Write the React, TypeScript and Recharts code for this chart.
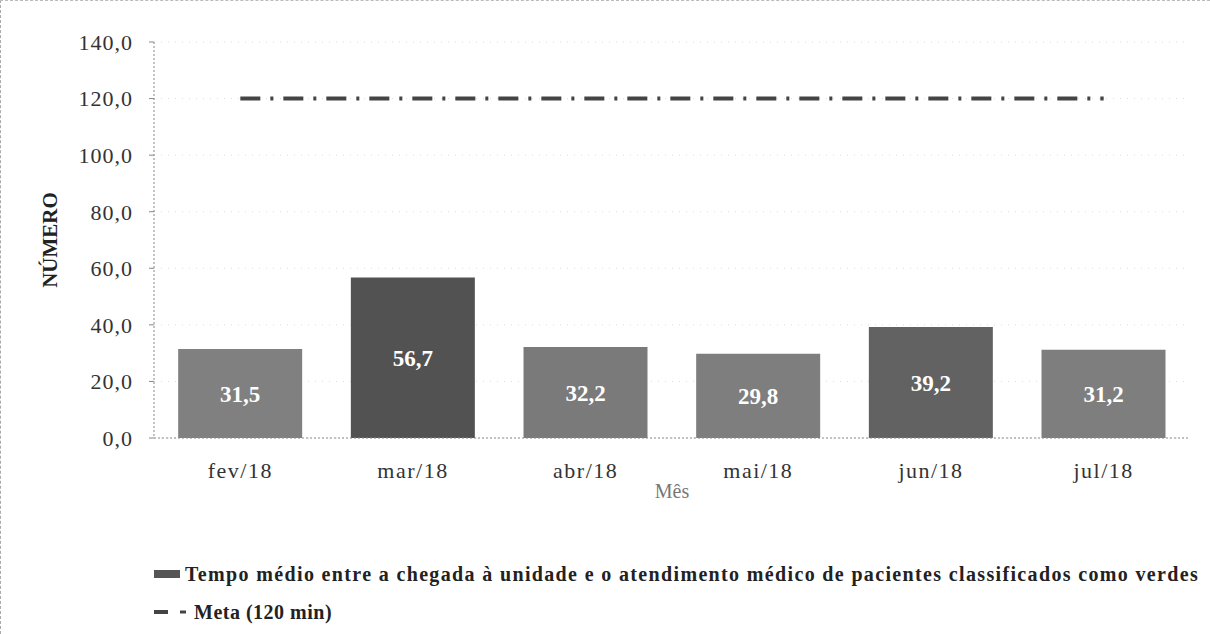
import { ComposedChart, Bar, Line, XAxis, YAxis, CartesianGrid, Legend, Cell, LabelList } from 'recharts';

const months = ['fev/18', 'mar/18', 'abr/18', 'mai/18', 'jun/18', 'jul/18'];
const tempoMedio = [31.5, 56.7, 32.2, 29.8, 39.2, 31.2];
const meta = [120, 120, 120, 120, 120, 120];
const yTicks = [0, 20, 40, 60, 80, 100, 120, 140];
const barShades = ['#808080', '#525252', '#7a7a7a', '#7e7e7e', '#626262', '#7e7e7e'];

const data = months.map((mes, i) => ({ mes, tempo: tempoMedio[i], meta: meta[i] }));

const fmt = (v: number) => v.toFixed(1).replace('.', ',');
const serif = 'Liberation Serif';

function LegendBox() {
  return (
    <div style={{ fontFamily: serif, fontWeight: 'bold', fontSize: 20, color: '#222' }}>
      <div style={{ display: 'flex', alignItems: 'center', height: 36, whiteSpace: 'nowrap' }}>
        <span style={{ display: 'inline-block', width: 26, height: 8, background: '#555', marginRight: 5 }} />
        <span style={{ letterSpacing: 1.35 }}>
          Tempo médio entre a chegada à unidade e o atendimento médico de pacientes classificados como verdes
        </span>
      </div>
      <div style={{ display: 'flex', alignItems: 'center', height: 40 }}>
        <svg width={38} height={10} style={{ marginRight: 2 }}>
          <line x1={0} y1={5} x2={14} y2={5} stroke="#444" strokeWidth={4} />
          <line x1={26} y1={5} x2={32} y2={5} stroke="#444" strokeWidth={3} />
        </svg>
        <span style={{ letterSpacing: 0.5 }}>Meta (120 min)</span>
      </div>
    </div>
  );
}

export default function App() {
  return (
    <div
      style={{
        position: 'absolute',
        left: 0,
        top: 0,
        width: 1210,
        height: 634,
        background: '#fff',
        boxSizing: 'border-box',
        borderLeft: '1px dashed #aaa',
        borderTop: '1px dashed #bbb',
      }}
    >
      <ComposedChart
        width={1209}
        height={633}
        data={data}
        margin={{ top: 41, right: 20, bottom: 126, left: 0 }}
        barCategoryGap="14%"
      >
        <CartesianGrid vertical={false} stroke="#dddddd" strokeDasharray="1 6" />
        <XAxis
          dataKey="mes"
          height={70}
          axisLine={{ stroke: '#888', strokeDasharray: '2 2' }}
          tickLine={false}
          tickSize={6}
          tickMargin={18}
          tick={{ fontFamily: serif, fontSize: 22, fill: '#333', letterSpacing: 1.5 }}
          label={{
            content: (props: any) => {
              const vb = props.viewBox || {};
              return (
                <text x={vb.x + vb.width / 2} y={vb.y + 60} textAnchor="middle" fontFamily={serif} fontSize={20} fill="#777">
                  Mês
                </text>
              );
            },
          }}
        />
        <YAxis
          width={153}
          domain={[0, 140]}
          ticks={yTicks}
          interval={0}
          tickFormatter={fmt}
          axisLine={{ stroke: '#888', strokeDasharray: '2 2' }}
          tickLine={{ stroke: '#888' }}
          tickSize={5}
          tickMargin={16}
          tick={{ fontFamily: serif, fontSize: 22, fill: '#333', letterSpacing: 1 }}
          label={{
            content: (props: any) => {
              const vb = props.viewBox || {};
              const cy = vb.y + vb.height / 2;
              return (
                <text x={56} y={cy} transform={`rotate(-90 56 ${cy})`} textAnchor="middle" fontFamily={serif} fontWeight="bold" fontSize={21} fill="#222">
                  NÚMERO
                </text>
              );
            },
          }}
        />
        <Legend
          layout="horizontal"
          verticalAlign="middle"
          align="center"
          wrapperStyle={{ top: 555, left: 153, width: 1057 }}
          content={() => <LegendBox />}
        />
        <Bar dataKey="tempo" isAnimationActive={false}>
          {data.map((d, i) => (
            <Cell key={d.mes} fill={barShades[i]} />
          ))}
          <LabelList
            dataKey="tempo"
            position="center"
            formatter={(v: any) => fmt(Number(v))}
            style={{ fill: '#fff', fontFamily: serif, fontWeight: 'bold', fontSize: 23 }}
          />
        </Bar>
        <Line
          dataKey="meta"
          stroke="#444"
          strokeWidth={4}
          strokeDasharray="20 10 3 10"
          dot={false}
          activeDot={false}
          isAnimationActive={false}
        />
      </ComposedChart>
    </div>
  );
}
